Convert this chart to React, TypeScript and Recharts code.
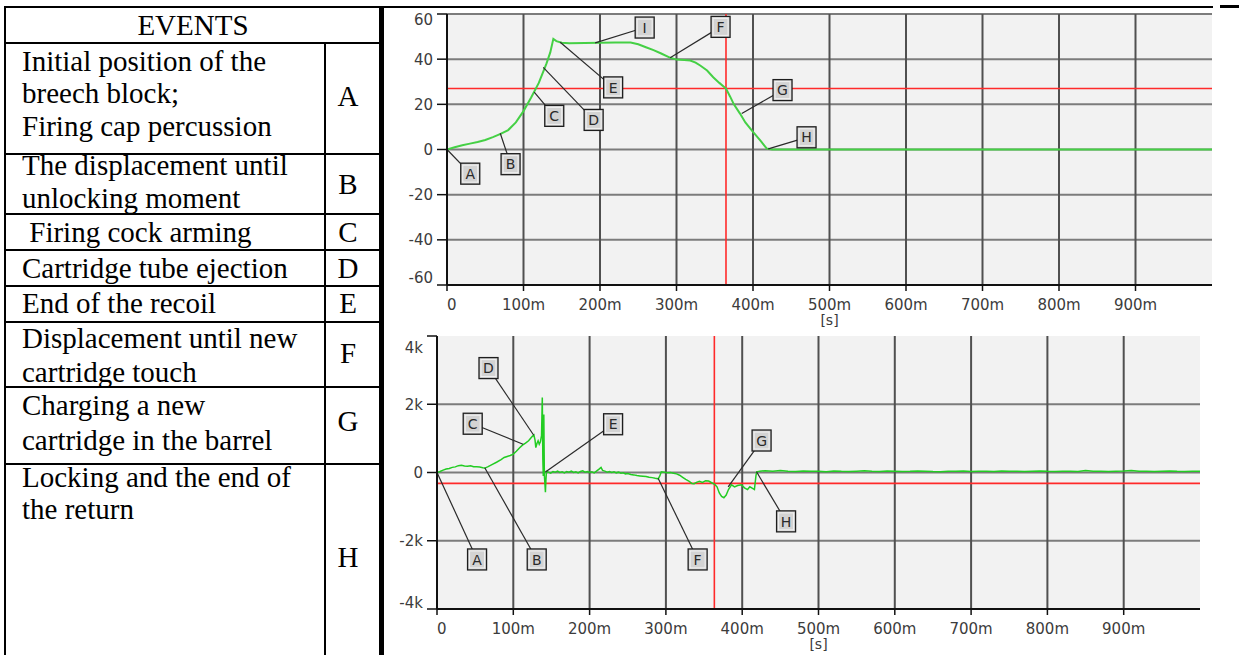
import React from 'react';
import { LineChart, Line, XAxis, YAxis, ReferenceLine, ReferenceDot, ReferenceArea } from 'recharts';

// ---------- data ----------
const timeTicks = [0, 100, 200, 300, 400, 500, 600, 700, 800, 900];
const timeGrid = [100, 200, 300, 400, 500, 600, 700, 800, 900];

const dispTicks = [-60, -40, -20, 0, 20, 40, 60];
const dispGrid = [-40, -20, 0, 20, 40, 60];
const forceTicks = [-4000, -2000, 0, 2000, 4000];
const forceGrid = [-2000, 0, 2000];

// displacement vs time [ms]: [t, value]
const dispSeries: number[][] = [
  [0, 0], [10, 1], [20, 1.9], [30, 2.6], [40, 3.3], [50, 4.2], [60, 5.5], [70, 6.9], [80, 8.6], [90, 12],
  [100, 17], [110, 23], [120, 29.5], [130, 38], [135, 43], [139, 49], [143, 48], [150, 47.3], [160, 47.1], [180, 47.2],
  [200, 47.3], [220, 47.4], [240, 47.4], [250, 46.6], [260, 45.3], [270, 44], [280, 42.5], [292, 40.6], [300, 39.8], [310, 39.6],
  [318, 39.4], [325, 38.5], [331, 37.2], [340, 35], [348, 32], [356, 29.5], [364.7, 27], [370, 23.5], [375, 20], [383, 15.9],
  [390, 12], [400, 7.8], [410, 3.8], [418, 0.4], [425, 0], [500, 0], [600, 0], [700, 0], [800, 0], [900, 0], [1000, 0],
];

// second trace vs time [ms]: [t, value]
const forceSeries: number[][] = [
  [0, 0], [4, 30], [8, 70], [12, 100], [16, 120], [20, 150], [24, 165], [28, 200], [32, 215], [36, 190],
  [40, 185], [44, 200], [48, 170], [52, 165], [56, 160], [60, 140], [63, 130], [67, 170], [72, 230], [78, 300],
  [84, 380], [88, 440], [92, 470], [96, 500], [100, 540], [104, 620], [108, 720], [112, 800], [116, 860], [120, 930],
  [123, 1010], [125, 1060], [127, 1100], [128.5, 950], [129.5, 730], [131, 850], [132.5, 930], [134, 830], [135.5, 900], [137, 1080],
  [138, 2200], [138.7, 400], [139.3, -100], [140, 1700], [140.7, -80], [141.5, -350], [142.1, -580], [142.8, -200], [143.5, 30], [146, 10],
  [149, -20], [152, 30], [155, 10], [158, 40], [161, 0], [164, 20], [167, -10], [170, 30], [173, 10], [176, 40],
  [179, 0], [182, 20], [185, -10], [188, 30], [191, 50], [194, 10], [197, 30], [200, 0], [203, 20], [206, -10],
  [209, 40], [212, 90], [215, 150], [217, 60], [220, 40], [223, 10], [226, 30], [229, 0], [232, 20], [235, -10],
  [238, 10], [241, -20], [244, -10], [247, -40], [250, -30], [254, -60], [258, -70], [262, -90], [266, -100], [270, -110],
  [274, -120], [278, -140], [282, -150], [286, -170], [290, -185], [292, -100], [294, 20], [298, 10], [302, -10], [306, 0],
  [310, -20], [314, -40], [318, -80], [322, -140], [326, -200], [330, -250], [334, -320], [337, -330], [340, -290], [344, -260],
  [348, -290], [352, -240], [356, -250], [360, -300], [364, -350], [367, -420], [370, -600], [373, -700], [376, -740], [379, -660],
  [382, -500], [386, -360], [390, -420], [394, -380], [399, -360], [403, -450], [407, -500], [410, -420], [413, -460], [416, -500],
  [418, -100], [419, 20], [423, 40], [430, 50], [440, 35], [450, 55], [460, 40], [470, 30], [480, 45], [490, 35],
  [500, 40], [510, 25], [520, 45], [530, 35], [540, 30], [550, 40], [560, 50], [570, 35], [580, 30], [590, 45],
  [600, 40], [610, 30], [620, 35], [630, 45], [640, 40], [650, 30], [660, 25], [670, 40], [680, 35], [690, 45],
  [700, 30], [710, 40], [720, 35], [730, 30], [740, 45], [750, 40], [760, 35], [770, 30], [780, 40], [790, 45],
  [800, 35], [810, 30], [820, 40], [830, 35], [840, 30], [850, 55], [860, 40], [870, 35], [880, 30], [890, 40],
  [900, 45], [910, 60], [920, 40], [930, 35], [940, 30], [950, 40], [960, 45], [970, 35], [980, 30], [990, 40],
  [1000, 35],
];

const dispCursorT = 364.7;
const dispCursorV = 27;
const forceCursorT = 363.5;
const forceCursorV = -320;

// event markers: letter, anchor on trace (t, v), label position (t, v)
const dispMarks = [
  { label: 'A', at: [0, 0], box: [30.4, -10.7] },
  { label: 'B', at: [69.6, 7.2], box: [83.1, -6.5] },
  { label: 'C', at: [114, 25.4], box: [140.2, 14.9] },
  { label: 'D', at: [125.8, 36.4], box: [191.7, 13.1] },
  { label: 'E', at: [148, 47.5], box: [217.2, 27.5] },
  { label: 'I', at: [193.7, 47.2], box: [258.4, 54] },
  { label: 'F', at: [291.7, 40.6], box: [357.6, 54.3] },
  { label: 'G', at: [385.3, 15.9], box: [438.6, 26.3] },
  { label: 'H', at: [420, 0.3], box: [470, 5.4] },
];
const forceMarks = [
  { label: 'A', at: [0, 0], box: [52.5, -2548] },
  { label: 'B', at: [62.6, 140], box: [130.7, -2548] },
  { label: 'C', at: [112.8, 829], box: [46.8, 1429] },
  { label: 'D', at: [126.8, 1092], box: [67.5, 3060] },
  { label: 'E', at: [142.1, 18], box: [230.8, 1414] },
  { label: 'F', at: [289.8, -170], box: [341.6, -2548] },
  { label: 'G', at: [381.6, -420], box: [425.4, 937] },
  { label: 'H', at: [418.8, 20], box: [457.5, -1432] },
];

const eventTexts = [
  ['Initial position of the', 'breech block;', 'Firing cap percussion'],
  ['The displacement until', 'unlocking moment'],
  [' Firing cock arming'],
  ['Cartridge tube ejection'],
  ['End of the recoil'],
  ['Displacement until new', 'cartridge touch'],
  ['Charging a new', 'cartridge in the barrel'],
  ['Locking and the end of', 'the return'],
];
const eventLetters = ['A', 'B', 'C', 'D', 'E', 'F', 'G', 'H'];

// ---------- layout / style ----------
const lineTops = [[44.5, 77, 109.5], [149, 181.5], [215.5], [251.5], [287.1], [322.1, 355.5], [388.8, 423.8], [460.5, 492.5]];
const letterTops = [79.5, 168, 215.5, 251.5, 287.1, 337, 405, 541];
const rowBorders = [42, 153, 213, 249, 285, 321, 386, 463];

const TICK_FONT = "'DejaVu Sans', Verdana, sans-serif";
const SERIF = "'Liberation Serif', 'Times New Roman', serif";

function LabelBox({ cx, cy, text }: { cx: number; cy: number; text: string }) {
  const w = 19;
  const h = 21;
  return (
    <g>
      <rect x={cx - w / 2} y={cy - h / 2} width={w} height={h} fill="#d3d3d3" stroke="#1e1e1e" strokeWidth={1.3} />
      <rect x={cx - w / 2 + 2} y={cy - h / 2 + 2} width={w - 4} height={h - 4} fill="none" stroke="#f2f2f2" strokeWidth={1} />
      <text x={cx} y={cy} dy="0.37em" textAnchor="middle" fontFamily={TICK_FONT} fontSize={14} fill="#2a2a2a">
        {text}
      </text>
    </g>
  );
}

function XTick(props: any) {
  const { x, y, payload } = props;
  const v = payload.value;
  return (
    <text x={x} y={y} dy="0.73em" textAnchor={v === 0 ? 'start' : 'middle'} fontFamily={TICK_FONT} fontSize={15} fill="#3c3c3c">
      {v === 0 ? '0' : `${v}m`}
    </text>
  );
}

function makeYTick(fmt: (v: number) => string, top: number, bottom: number, topDy: number, bottomDy: number) {
  return (props: any) => {
    const { x, y, payload } = props;
    const v = payload.value;
    const dy = v === top ? topDy : v === bottom ? bottomDy : 5.4;
    return (
      <text x={x} y={y} dy={dy} textAnchor="end" fontFamily={TICK_FONT} fontSize={15} fill="#3c3c3c">
        {fmt(v)}
      </text>
    );
  };
}

type ChartProps = {
  series: number[][];
  yTicks: number[];
  yGrid: number[];
  cursorT: number;
  cursorV: number;
  marks: { label: string; at: number[]; box: number[] }[];
  yTick: (p: any) => any;
  width: number;
  height: number;
  margin: { top: number; right: number; bottom: number; left: number };
  lineColor: string;
  lineWidth: number;
};

function TraceChart(p: ChartProps) {
  const data = p.series.map(([t, v]) => ({ t, v }));
  const yMin = p.yTicks[0];
  const yMax = p.yTicks[p.yTicks.length - 1];
  return (
    <LineChart width={p.width} height={p.height} data={data} margin={p.margin}>
      <ReferenceArea x1={0} x2={1000} y1={yMin} y2={yMax} fill="#f2f2f2" fillOpacity={1} stroke="none" />
      {p.yGrid.map((v) => (
        <ReferenceLine key={'h' + v} y={v} stroke="#7c7c7c" strokeWidth={2} />
      ))}
      {timeGrid.map((t) => (
        <ReferenceLine key={'v' + t} x={t} stroke="#505050" strokeWidth={2} />
      ))}
      <ReferenceLine y={p.cursorV} stroke="#ff2a2a" strokeWidth={1.6} />
      <ReferenceLine x={p.cursorT} stroke="#ff2a2a" strokeWidth={1.6} />
      <Line
        type="linear"
        dataKey="v"
        stroke={p.lineColor}
        strokeWidth={p.lineWidth}
        dot={false}
        activeDot={false}
        isAnimationActive={false}
      />
      {p.marks.map((m) => (
        <ReferenceLine
          key={'l' + m.label}
          segment={[
            { x: m.at[0], y: m.at[1] },
            { x: m.box[0], y: m.box[1] },
          ]}
          stroke="#2a2a2a"
          strokeWidth={1.2}
        />
      ))}
      {p.marks.map((m) => (
        <ReferenceDot
          key={'b' + m.label}
          x={m.box[0]}
          y={m.box[1]}
          r={10}
          shape={(sp: any) => <LabelBox cx={sp.cx} cy={sp.cy} text={m.label} />}
        />
      ))}
      <XAxis
        type="number"
        dataKey="t"
        domain={[0, 1000]}
        ticks={timeTicks}
        allowDataOverflow
        height={30}
        tickSize={6}
        tickMargin={8}
        axisLine={{ stroke: '#111', strokeWidth: 2 }}
        tickLine={{ stroke: '#111', strokeWidth: 1.5 }}
        tick={(tp: any) => <XTick {...tp} />}
        label={{ value: '[s]', position: 'bottom', offset: 0, fill: '#3a3a3a', fontSize: 14, fontFamily: TICK_FONT }}
      />
      <YAxis
        type="number"
        domain={[yMin, yMax]}
        ticks={p.yTicks}
        allowDataOverflow
        width={40}
        tickSize={10}
        tickMargin={4}
        axisLine={{ stroke: '#111', strokeWidth: 2 }}
        tickLine={{ stroke: '#111', strokeWidth: 1.5 }}
        tick={(tp: any) => p.yTick(tp)}
      />
    </LineChart>
  );
}

const dispYTick = makeYTick((v) => String(v), 60, -60, 10.5, -1.7);
const forceYTick = makeYTick((v) => (v === 0 ? '0' : `${v / 1000}k`), 4000, -4000, 14.3, -1);

function EventsTable() {
  const black = '#000';
  return (
    <>
      <div style={{ position: 'absolute', left: 4, top: 6, width: 2, height: 660, background: black }} />
      <div style={{ position: 'absolute', left: 4, top: 6, width: 1209, height: 2, background: black }} />
      <div style={{ position: 'absolute', left: 1220, top: 5, width: 19, height: 3, background: black }} />
      <div style={{ position: 'absolute', left: 379, top: 6, width: 5, height: 660, background: black }} />
      <div style={{ position: 'absolute', left: 324, top: 42, width: 2, height: 620, background: black }} />
      {rowBorders.map((y) => (
        <div key={y} style={{ position: 'absolute', left: 4, top: y, width: 376, height: 2, background: black }} />
      ))}
      <div
        style={{
          position: 'absolute',
          left: 6,
          top: 9.3,
          width: 374,
          textAlign: 'center',
          fontFamily: SERIF,
          fontSize: 29,
          lineHeight: '32px',
          color: '#000',
        }}
      >
        EVENTS
      </div>
      {eventTexts.map((lines, r) =>
        lines.map((line, i) => (
          <div
            key={r + '-' + i}
            style={{
              position: 'absolute',
              left: 22,
              top: lineTops[r][i],
              whiteSpace: 'pre',
              fontFamily: SERIF,
              fontSize: 29,
              lineHeight: '32px',
              color: '#000',
            }}
          >
            {line}
          </div>
        ))
      )}
      {eventLetters.map((l, r) => (
        <div
          key={l}
          style={{
            position: 'absolute',
            left: 323,
            width: 50,
            top: letterTops[r],
            textAlign: 'center',
            fontFamily: SERIF,
            fontSize: 29,
            lineHeight: '32px',
            color: '#000',
          }}
        >
          {l}
        </div>
      ))}
    </>
  );
}

export default function App() {
  return (
    <div
      style={{
        position: 'absolute',
        left: 0,
        top: 0,
        width: 1239,
        height: 655,
        overflow: 'hidden',
        background: '#fff',
      }}
    >
      <EventsTable />
      <div style={{ position: 'absolute', left: 380, top: 0 }}>
        <TraceChart
          series={dispSeries}
          yTicks={dispTicks}
          yGrid={dispGrid}
          cursorT={dispCursorT}
          cursorV={dispCursorV}
          marks={dispMarks}
          yTick={dispYTick}
          width={859}
          height={330}
          margin={{ top: 14, right: 27, bottom: 15, left: 27 }}
          lineColor="#45d045"
          lineWidth={2}
        />
      </div>
      <div style={{ position: 'absolute', left: 380, top: 330 }}>
        <TraceChart
          series={forceSeries}
          yTicks={forceTicks}
          yGrid={forceGrid}
          cursorT={forceCursorT}
          cursorV={forceCursorV}
          marks={forceMarks}
          yTick={forceYTick}
          width={859}
          height={325}
          margin={{ top: 6, right: 39, bottom: 16, left: 17 }}
          lineColor="#22cc22"
          lineWidth={1.5}
        />
      </div>
    </div>
  );
}
